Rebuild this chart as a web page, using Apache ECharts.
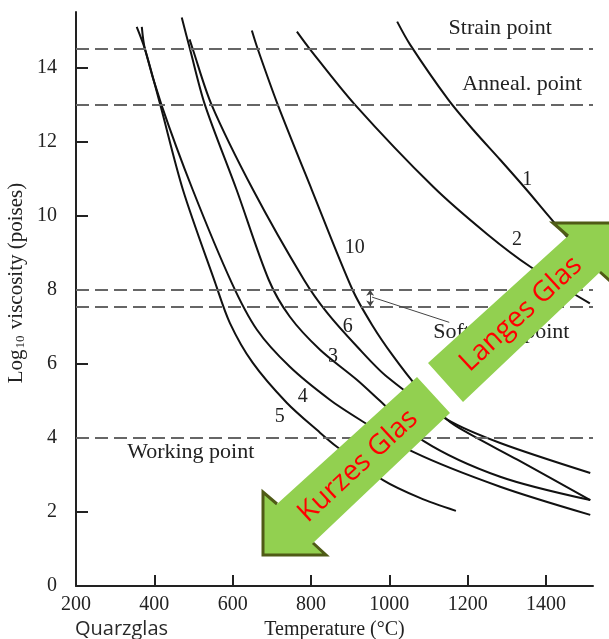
<!DOCTYPE html>
<html><head><meta charset="utf-8">
<script src="https://cdn.jsdelivr.net/npm/echarts@6/dist/echarts.min.js"></script>
<style>html,body{margin:0;padding:0;background:#fff}#c{width:609px;height:639px}</style>
</head><body><div id="c"></div>
<script>
// ---- data ----
const xTicks = [200, 400, 600, 800, 1000, 1200, 1400];
const yTicks = [0, 2, 4, 6, 8, 10, 12, 14];
const curveNames = ['1', '2', '10', '6', '3', '4', '5'];
const curve1  = [[1020,15.24],[1053,14.62],[1150,13.14],[1214,12.32],[1283,11.51],[1352,10.68],[1419,9.84],[1515,8.72]];
const curve2  = [[764,14.97],[797,14.5],[912,13.0],[1112,10.78],[1250,9.5],[1360,8.62],[1512,7.63]];
const curve10 = [[649,15.0],[664,14.5],[715,13.0],[802,10.7],[906,8.0],[956,7.05],[1009,6.22],[1073,5.35],[1148,4.49],[1199,4.14],[1327,3.41],[1513,2.32]];
const curve6  = [[490,14.76],[498,14.5],[546,13.0],[652,10.7],[782,8.27],[841,7.38],[918,6.46],[994,5.65],[1148,4.49],[1283,3.86],[1513,3.05]];
const curve3  = [[470,15.35],[491,14.5],[529,13.0],[610,10.7],[692,8.27],[746,7.27],[823,6.38],[917,5.57],[976,5.0],[1087,3.92],[1283,2.95],[1513,2.32]];
const curve4  = [[368,15.1],[376,14.5],[418,13.0],[498,10.7],[597,8.2],[662,6.92],[746,5.92],[848,5.03],[925,4.49],[1061,3.62],[1283,2.68],[1513,1.92]];
const curve5  = [[355,15.1],[376,14.5],[415,13.0],[473,10.7],[555,8.2],[593,7.1],[651,6.03],[738,4.95],[823,4.14],[866,3.76],[984,2.86],[1078,2.38],[1170,2.03]];
const refLevels = [14.5, 13.0, 8.0, 7.55, 4.0];
const refNames = ['Strain point', 'Anneal. point', 'Softening point', 'Working point'];

const curves = [curve1, curve2, curve10, curve6, curve3, curve4, curve5];

const chart = echarts.init(document.getElementById('c'), null, {renderer: 'canvas'});
const serif = '"Liberation Serif", "Times New Roman", serif';

const series = curves.map((d, i) => ({
  name: curveNames[i], type: 'line', data: d, showSymbol: false, smooth: 0.3,
  lineStyle: {color: '#111', width: 2}, z: 3, silent: true
}));
series.push({
  type: 'line', data: [], silent: true, z: 2,
  markLine: {
    silent: true, symbol: ['none', 'none'], label: {show: false}, animation: false,
    lineStyle: {type: [13, 6], color: '#666', width: 1.8},
    data: refLevels.map(v => ({yAxis: v}))
  }
});
series.push({
  type: 'line', data: [], silent: true, z: 2,
  markLine: {
    silent: true, label: {show: false}, animation: false,
    lineStyle: {type: 'solid', color: '#444', width: 1},
    symbolSize: 6,
    data: [
      [{coord: [951, 8.0], symbol: 'arrow'}, {coord: [951, 7.55], symbol: 'arrow'}],
      [{coord: [956, 7.8], symbol: 'none'}, {coord: [1153, 7.12], symbol: 'none'}]
    ]
  }
});

chart.setOption({
  animation: false,
  backgroundColor: '#fff',
  grid: {left: 76, right: 16, top: 12, bottom: 53, outerBoundsMode: 'none', containLabel: false},
  xAxis: {
    type: 'value', min: 200, max: 1520,
    name: 'Temperature (°C)', nameLocation: 'middle', nameGap: 34,
    nameTextStyle: {fontFamily: serif, fontSize: 20, color: '#222'},
    axisLine: {lineStyle: {color: '#222', width: 2}},
    axisTick: {inside: true, length: 11, lineStyle: {color: '#222', width: 2}, customValues: xTicks},
    axisLabel: {customValues: xTicks, formatter: v => String(v), fontFamily: serif, fontSize: 20, color: '#222', margin: 9},
    splitLine: {show: false}
  },
  yAxis: {
    type: 'value', min: 0, max: 15.5,
    axisLine: {lineStyle: {color: '#222', width: 2}},
    axisTick: {inside: true, length: 12, lineStyle: {color: '#222', width: 2}, customValues: yTicks},
    axisLabel: {customValues: yTicks, fontFamily: serif, fontSize: 20, color: '#222', margin: 19},
    splitLine: {show: false}
  },
  series: series
});

function px(t, v) { return chart.convertToPixel({gridIndex: 0}, [t, v]); }
function txt(p, s, font, align, extra) {
  return Object.assign({type: 'text', x: p[0], y: p[1], z: 50, silent: true,
    style: {text: s, font: font, fill: '#222', align: align || 'center', verticalAlign: 'middle'}}, extra || {});
}
const lblFont = '20px ' + serif;
const annFont = '22px ' + serif;
const curveLabelAnchors = [[1352,10.97],[1326,9.35],[912,9.14],[894,7.0],[856,6.19],[779,5.11],[720,4.57]];
const g = [];
curveNames.forEach((n, i) => g.push(txt(px(curveLabelAnchors[i][0], curveLabelAnchors[i][1]), n, lblFont)));
g.push(txt(px(1283, 15.05), refNames[0], annFont));
g.push(txt(px(1339, 13.55), refNames[1], annFont));
g.push(txt(px(1112, 6.84), refNames[2], annFont, 'left'));
g.push(txt(px(493, 3.62), refNames[3], annFont));
g.push({type: 'text', x: 75, y: 629, z: 50, silent: true,
  style: {text: 'Quarzglas', font: '20px "Open Sans", sans-serif', fill: '#2a2a2a', align: 'left', verticalAlign: 'middle'}});
// y-axis title (rotated, with subscript)
g.push({type: 'text', x: 16, y: 283, rotation: Math.PI / 2, z: 50, silent: true,
  style: {
    text: '{a|Log}{s|10}{a| viscosity (poises)}', align: 'center', verticalAlign: 'middle',
    rich: {
      a: {fontFamily: serif, fontSize: 21, fill: '#222', lineHeight: 24, verticalAlign: 'middle'},
      s: {fontFamily: serif, fontSize: 13, fill: '#222', lineHeight: 24, verticalAlign: 'bottom', padding: [0, 1, 1, 1]}
    }
  }});

// arrows overlay
const green = '#92d050', edge = '#4f5b16';
g.push({type: 'polygon', z: 100, silent: true,
  shape: {points: [[263,555],[263,492],[277,504],[417,377],[450,413],[313,543],[326,555]]}, style: {fill: green}});
g.push({type: 'polyline', z: 101, silent: true,
  shape: {points: [[277,504],[263,492],[263,555],[326,555],[313,543]]}, style: {stroke: edge, lineWidth: 3, fill: null}});
g.push({type: 'polygon', z: 100, silent: true,
  shape: {points: [[428,363],[568,236],[553,223],[618,223],[618,288],[600,272],[463,402]]}, style: {fill: green}});
g.push({type: 'polyline', z: 101, silent: true,
  shape: {points: [[568,236],[553,223],[618,223],[618,288],[600,272]]}, style: {stroke: edge, lineWidth: 3, fill: null}});
const rot = Math.atan2(128.5, 139);
g.push({type: 'text', x: 358, y: 466, rotation: rot, z: 102, silent: true,
  style: {text: 'Kurzes Glas', font: '28px "Open Sans", sans-serif', fill: '#ff0000', align: 'center', verticalAlign: 'middle'}});
g.push({type: 'text', x: 521, y: 314, rotation: rot, z: 102, silent: true,
  style: {text: 'Langes Glas', font: '28px "Open Sans", sans-serif', fill: '#ff0000', align: 'center', verticalAlign: 'middle'}});

chart.setOption({graphic: g});
</script>
</body></html>
